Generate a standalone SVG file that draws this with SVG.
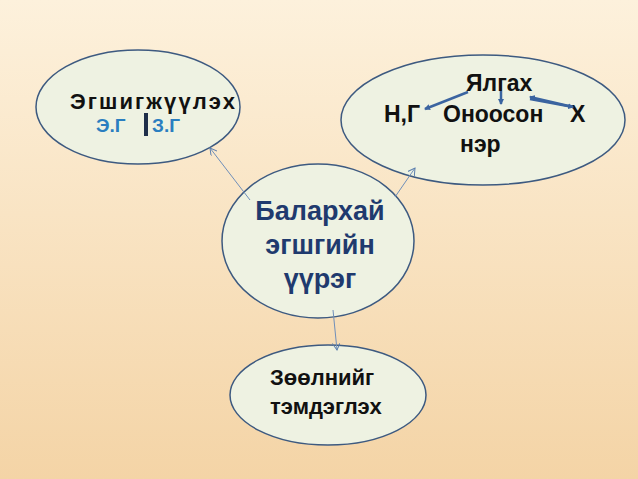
<svg xmlns="http://www.w3.org/2000/svg" width="638" height="479" viewBox="0 0 638 479">
<defs>
<linearGradient id="bg" x1="0" y1="0" x2="0" y2="1"><stop offset="0" stop-color="#fdf1dc"/><stop offset="1" stop-color="#f4d4a6"/></linearGradient>
<marker id="a" markerWidth="8" markerHeight="8" refX="7" refY="4" orient="auto" markerUnits="userSpaceOnUse"><path d="M0,0 L7,4 L0,8" fill="none" stroke="#5b7fae" stroke-width="1"/></marker>
<marker id="b" markerWidth="6" markerHeight="6" refX="5" refY="3" orient="auto" markerUnits="userSpaceOnUse"><path d="M0,0 L6,3 L0,6z" fill="#3b64a0"/></marker>
<style>
.e{fill:#eef2e2;stroke:#3d5a80;stroke-width:1.5}
.t{font-family:"Liberation Sans",Arial,sans-serif;font-weight:bold}
.c{stroke:#6f8fba;stroke-width:1;fill:none}
.k{stroke:#3b64a0;stroke-width:2.5;fill:none}
</style>
</defs>
<rect width="638" height="479" fill="url(#bg)"/>
<g id="n1"><ellipse class="e" cx="138" cy="107" rx="102" ry="57"/>
<text class="t" x="70" y="109" font-size="22" fill="#111" textLength="165" lengthAdjust="spacing">Эгшигжүүлэх</text>
<text class="t" x="96" y="132" font-size="19" fill="#2a7ec0">Э.Г</text>
<rect x="144" y="113" width="4" height="23" fill="#1f2f4a"/>
<text class="t" x="152" y="132" font-size="19" fill="#2a7ec0">З.Г</text></g>
<g id="n2"><ellipse class="e" cx="483" cy="120" rx="142" ry="65"/>
<text class="t" x="466" y="91" font-size="23" fill="#111">Ялгах</text>
<text class="t" x="384" y="122" font-size="23" fill="#111">Н,Г</text>
<text class="t" x="443" y="122" font-size="23" fill="#111">Оноосон</text>
<text class="t" x="570" y="122" font-size="23" fill="#111">Х</text>
<text class="t" x="460" y="152" font-size="23" fill="#111">нэр</text>
<path class="k" d="M468,92 L425,109" marker-end="url(#b)"/>
<path class="k" d="M501,91 L501,104" marker-end="url(#b)"/>
<path class="k" d="M530,99 L573,107" marker-end="url(#b)"/>
<path class="k" d="M573,107 L530,97" marker-end="url(#b)"/></g>
<g id="n3"><ellipse class="e" cx="318" cy="241" rx="96" ry="77"/>
<g class="t" font-size="27" fill="#1f3a6e" text-anchor="middle">
<text x="320" y="220">Балархай</text><text x="320" y="254">эгшгийн</text><text x="320" y="288">үүрэг</text></g></g>
<g id="n4"><ellipse class="e" cx="328" cy="395" rx="98" ry="50"/>
<text class="t" x="270" y="385" font-size="22" fill="#111">Зөөлнийг</text>
<text class="t" x="270" y="414" font-size="22" fill="#111">тэмдэглэх</text></g>
<g id="connectors">
<path class="c" d="M250,200 L210,148" marker-end="url(#a)"/>
<path class="c" d="M395,197 L415,168" marker-end="url(#a)"/>
<path class="c" d="M333,310 L337,350" marker-end="url(#a)"/>
</g>
</svg>
